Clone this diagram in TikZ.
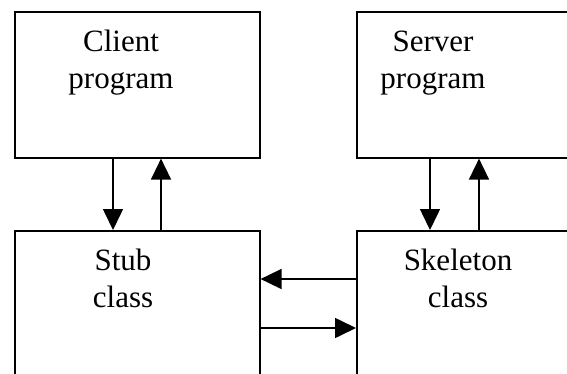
\documentclass[tikz,border=0pt]{standalone}
\usepackage{fontspec}
\setmainfont{Liberation Serif}
\usetikzlibrary{arrows.meta}

\begin{document}
\begin{tikzpicture}[x=1pt,y=1pt,yscale=-1,xscale=1,
  box/.style={draw,line width=1.6pt,inner sep=0pt,anchor=north west},
  lbl/.style={inner sep=0pt,align=center,font=\fontsize{31}{37}\selectfont,anchor=base},
  link/.style={line width=1.6pt,-{Triangle[length=21pt,width=20pt]}}]
\useasboundingbox (0,0) rectangle (567,374);
\clip (0,0) rectangle (567,374);

%Shape: Rectangle [client]
\node[box,minimum width=245pt,minimum height=146pt] (client) at (14,11) {};
%Shape: Rectangle [server]
\node[box,minimum width=240pt,minimum height=146pt] (server) at (356,11) {};
%Shape: Rectangle [stub]
\node[box,minimum width=245pt,minimum height=170pt] (stub) at (14,230) {};
%Shape: Rectangle [skeleton]
\node[box,minimum width=240pt,minimum height=170pt] (skel) at (356,230) {};

% Text Node
\node[lbl] (clienttxt) at (121,89) {Client\\program};
% Text Node
\node[lbl] (servertxt) at (433,89) {Server\\program};
% Text Node
\node[lbl] (stubtxt) at (123,307) {Stub\\class};
% Text Node
\node[lbl] (skeltxt) at (458,307) {Skeleton\\class};

% helper positions of the arrows
\coordinate (callx) at (113,0);
\coordinate (retx) at (161,0);
\coordinate (upcallx) at (430,0);
\coordinate (upretx) at (479,0);
\coordinate (replyy) at (0,279);
\coordinate (requesty) at (0,328);

%Straight Lines
\draw[link] (client.south -| callx) -- (stub.north -| callx);
\draw[link] (stub.north -| retx) -- (client.south -| retx);
\draw[link] (server.south -| upcallx) -- (skel.north -| upcallx);
\draw[link] (skel.north -| upretx) -- (server.south -| upretx);
\draw[link] (skel.west |- replyy) -- (stub.east |- replyy);
\draw[link] (stub.east |- requesty) -- (skel.west |- requesty);
\end{tikzpicture}
\end{document}
